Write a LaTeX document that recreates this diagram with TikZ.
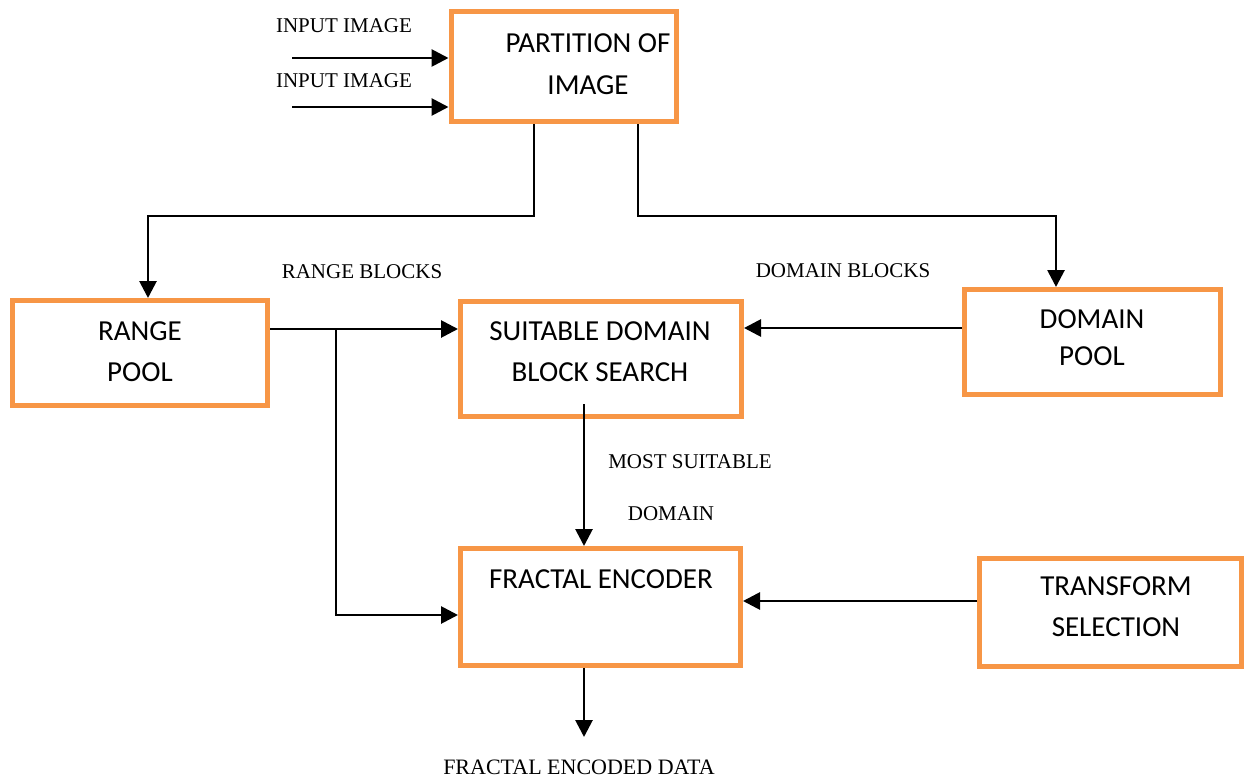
\documentclass[tikz,border=0pt]{standalone}
\usepackage{fontspec}
\setmainfont{Liberation Serif}
\newfontfamily\boxfont{Carlito}
\usetikzlibrary{arrows.meta}
\definecolor{boxorange}{HTML}{F79646}
\tikzset{
  blk/.style={draw=boxorange, line width=5pt, fill=white, inner sep=0pt, rectangle},
  blktext/.style={font=\boxfont\fontsize{29}{41}\selectfont, align=center, inner sep=0pt},
  lbl/.style={font=\fontsize{21}{25}\selectfont, inner sep=0pt},
  arr/.style={line width=2.8pt, -{Triangle[length=17pt,width=17pt]}}
}
\begin{document}
\begin{tikzpicture}[x=1pt,y=-1pt]
\useasboundingbox (0,0) rectangle (1244,778);
% boxes
\node[blk, minimum width=225pt, minimum height=110pt] (part) at (563.5,67) {};
\node[blk, minimum width=255pt, minimum height=105pt] (range) at (140,353) {};
\node[blk, minimum width=281pt, minimum height=115pt] (suit) at (601,359) {};
\node[blk, minimum width=256pt, minimum height=105pt] (dom) at (1092.5,342) {};
\node[blk, minimum width=280pt, minimum height=117pt] (frac) at (600.5,607) {};
\node[blk, minimum width=262pt, minimum height=108pt] (trans) at (1110.5,612.5) {};
% box texts
\node[blktext, font=\boxfont\fontsize{29}{42.5}\selectfont] (partt) at (588,64) {PARTITION OF\\IMAGE};
\node[blktext] (ranget) at (140,352) {RANGE\\POOL};
\node[blktext] (suitt) at (600,352) {SUITABLE DOMAIN\\BLOCK SEARCH};
\node[blktext, font=\boxfont\fontsize{29}{37}\selectfont] (domt) at (1092,338) {DOMAIN\\POOL};
\node[blktext] (fract) at (601,579) {FRACTAL ENCODER};
\node[blktext] (transt) at (1116,607) {TRANSFORM\\SELECTION};
% labels
\node[lbl] (inl1) at (344,26) {INPUT IMAGE};
\node[lbl] (inl2) at (344,81) {INPUT IMAGE};
\node[lbl] (rbl) at (362,272) {RANGE BLOCKS};
\node[lbl] (dbl) at (843,271) {DOMAIN BLOCKS};
\node[lbl] (msl) at (690,462) {MOST SUITABLE};
\node[lbl] (mdl) at (671,514) {DOMAIN};
\node[lbl, font=\fontsize{22}{26}\selectfont, anchor=base] (outl) at (579,774) {FRACTAL ENCODED DATA};
% coordinates
\coordinate (i1) at (292,58);
\coordinate (i2) at (292,107);
\coordinate (j1) at (534,216);
\coordinate (j2) at (148,216);
\coordinate (k1) at (638,216);
\coordinate (k2) at (1056,216);
\coordinate (ry) at (0,329);
\coordinate (br) at (336,329);
\coordinate (bb) at (336,615);
\coordinate (dy) at (0,328);
\coordinate (s0) at (584,404);
\coordinate (ty) at (0,601);
\coordinate (out) at (584,737);
% connectors
\draw[arr] (i1) -- (i1 -| part.west);
\draw[arr] (i2) -- (i2 -| part.west);
\draw[arr] (j1 |- part.south) -- (j1) -- (j2) -- (j2 |- range.north);
\draw[arr] (k1 |- part.south) -- (k1) -- (k2) -- (k2 |- dom.north);
\draw[arr] (ry -| range.east) -- (ry -| suit.west);
\draw[arr] (br) -- (bb) -- (bb -| frac.west);
\draw[arr] (dy -| dom.west) -- (dy -| suit.east);
\draw[arr] (s0) -- (s0 |- frac.north);
\draw[arr] (ty -| trans.west) -- (ty -| frac.east);
\draw[arr] (out |- frac.south) -- (out);
\end{tikzpicture}
\end{document}
